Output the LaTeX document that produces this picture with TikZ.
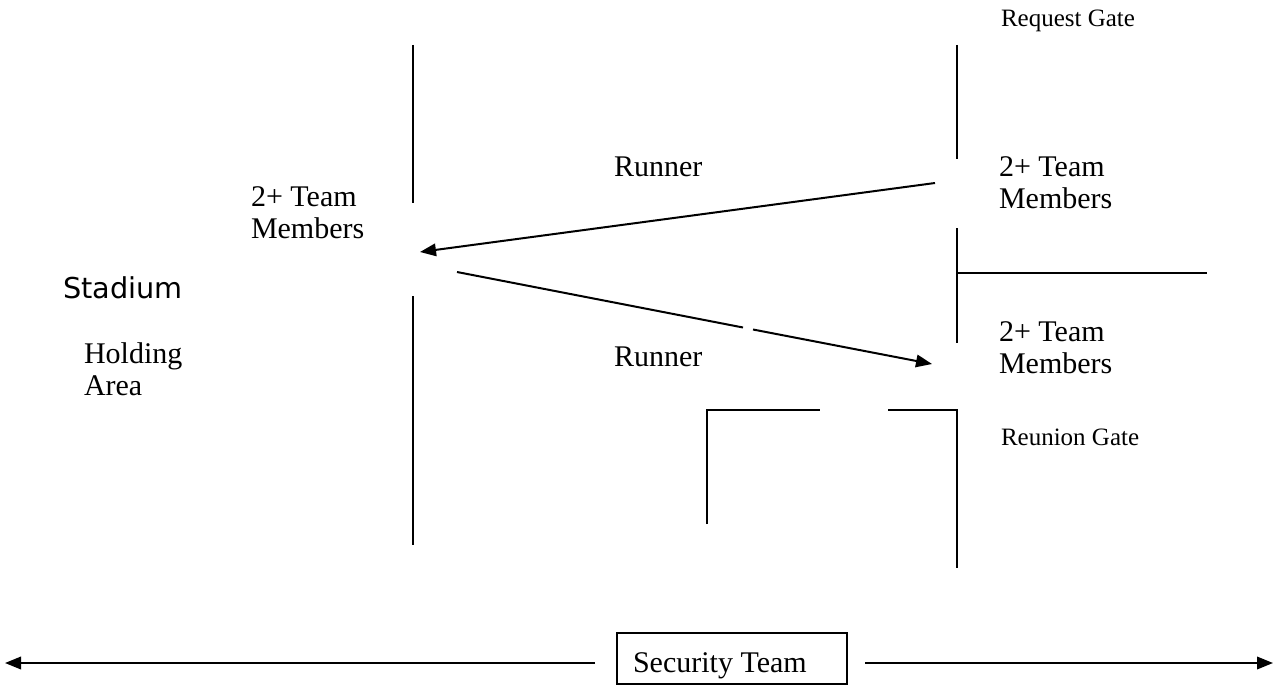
\documentclass[tikz,border=0pt]{standalone}
\usepackage{fontspec}
\setmainfont{Liberation Serif}
\newfontfamily\stadiumfont{DejaVu Sans}
\usetikzlibrary{arrows.meta,positioning}

\begin{document}
\begin{tikzpicture}[x=0.4pt, y=-0.4pt, line width=0.8pt,
    >={Triangle[length=6.4pt,width=5pt]},
    lbl/.style={anchor=north west, inner sep=0pt, align=left,
      font=\fontsize{12}{12.8}\selectfont},
    gatelbl/.style={lbl, font=\fontsize{10}{12}\selectfont}]
  \useasboundingbox (0,0) rectangle (1278,686);
  % walls
  \draw (413,45) -- (413,203);
  \draw (413,296) -- (413,545);
  \draw (957,45) -- (957,159);
  \draw (957,228) -- (957,343);
  \draw (957,273) -- (1207,273);
  \draw (957,409) -- (957,568);
  \draw (707,524) -- (707,410) -- (820,410);
  \draw (888,410) -- (957,410);
  % labels
  \node[gatelbl] (reqgate) at (1000,9) {Request Gate};
  \node[gatelbl] (reungate) at (1000,428) {Reunion Gate};
  \node[lbl] (teamL) at (250,186) {2+ Team\\Members};
  \node[lbl] (teamRU) at (998,156) {2+ Team\\Members};
  \node[lbl] (teamRL) at (998,321) {2+ Team\\Members};
  \node[lbl] (runU) at (613,156) {Runner};
  \node[lbl] (runL) at (613,346) {Runner};
  \node[anchor=north west, inner sep=0pt, font=\stadiumfont\fontsize{11.5}{14}\selectfont]
    (stadium) at (62,276) {Stadium};
  \node[lbl] (holding) at (83,342) {Holding\\Area};
  % runners
  \coordinate (runUs) at (935,183);
  \coordinate (runUe) at (420,252);
  \draw[->] (runUs) -- (runUe);
  \coordinate (runLs) at (457,272);
  \coordinate (runLg) at (743,327.5);
  \coordinate (runLh) at (753,329.5);
  \coordinate (runLe) at (932,364);
  \draw (runLs) -- (runLg);
  \draw[->] (runLh) -- (runLe);
  % security
  \draw (617,633) rectangle (847,684);
  \node[lbl] (security) at (632,652) {Security Team};
  \coordinate (secL) at (5,663);
  \coordinate (secR) at (1273,663);
  \draw[->] (595,663) -- (secL);
  \draw[->] (865,663) -- (secR);
\end{tikzpicture}
\end{document}
